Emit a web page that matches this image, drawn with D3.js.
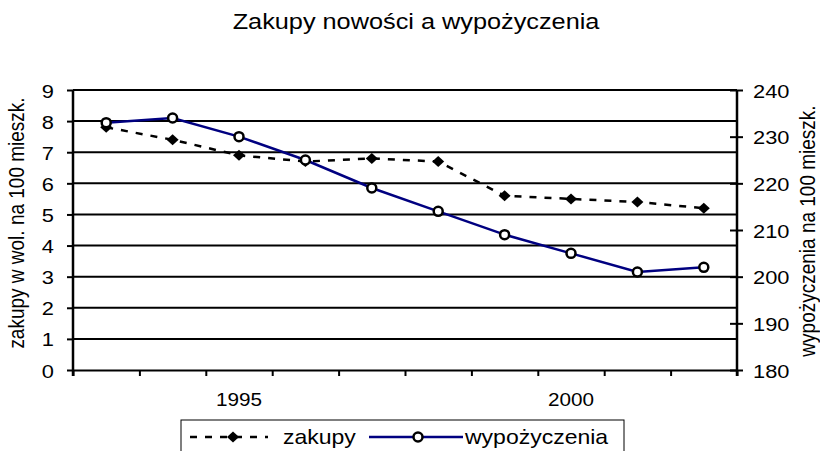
<!DOCTYPE html>
<meta charset="utf-8">
<style>
body {
  margin: 0;
  background: #fff;
  font-family: "Liberation Sans", Arial, sans-serif;
}
</style>
<body>
<script src="https://cdn.jsdelivr.net/npm/d3@7/dist/d3.min.js"></script>
<script>

// chart data
var years = [1993, 1994, 1995, 1996, 1997, 1998, 1999, 2000, 2001, 2002];
var zakupy = [7.8, 7.4, 6.9, 6.7, 6.8, 6.7, 5.6, 5.5, 5.4, 5.2];
var wypozyczenia = [233, 234, 230, 225, 219, 214, 209, 205, 201, 202];
var leftTicks = [0, 1, 2, 3, 4, 5, 6, 7, 8, 9];
var rightTicks = [180, 190, 200, 210, 220, 230, 240];
var yearLabels = [1995, 2000];
var seriesNames = ["zakupy", "wypożyczenia"];
var title = "Zakupy nowości a wypożyczenia";
var leftTitle = "zakupy w wol. na 100 mieszk.";
var rightTitle = "wypożyczenia na 100 mieszk.";

var W = 820, H = 451;
var margin = {top: 90, right: 83, bottom: 81, left: 73};
var width = W - margin.left - margin.right,
    height = H - margin.top - margin.bottom;
var sx = 1.15; // the picture is a bit stretched sideways

var svg = d3.select("body").append("svg")
  .attr("width", W)
  .attr("height", H);

var g = svg.append("g")
  .attr("transform", "translate(" + margin.left + "," + margin.top + ")");

var x = d3.scaleLinear()
  .domain([years[0] - 0.5, years[years.length - 1] + 0.5])
  .range([0, width]);

var yL = d3.scaleLinear().domain([0, 9]).range([height, 0]);
var yR = d3.scaleLinear().domain([180, 240]).range([height, 0]);

// gridlines
g.selectAll(".grid")
  .data(leftTicks.slice(1))
  .enter().append("line")
  .attr("x1", 0).attr("x2", width)
  .attr("y1", function (d) { return yL(d); })
  .attr("y2", function (d) { return yL(d); })
  .attr("stroke", "#000")
  .attr("stroke-width", 2);

// x axis, ticks between years
var xAxis = g.append("g")
  .attr("transform", "translate(0," + height + ")")
  .call(d3.axisBottom(x)
    .tickValues(d3.range(years[0] - 0.5, years[years.length - 1] + 1, 1))
    .tickSize(6).tickSizeOuter(0)
    .tickFormat(""));
xAxis.selectAll("line").attr("stroke-width", 2);
xAxis.select(".domain").attr("stroke-width", 2);

g.selectAll(".xlab")
  .data(yearLabels)
  .enter().append("text")
  .attr("transform", function (d) { return "translate(" + x(d) + "," + (height + 36) + ") scale(" + sx + ",1)"; })
  .attr("text-anchor", "middle")
  .style("font-size", "18px")
  .text(function (d) { return d; });

// left axis
var left = g.append("g")
  .call(d3.axisLeft(yL).tickValues(leftTicks).tickSize(6).tickSizeOuter(0).tickPadding(0));
left.select(".domain").attr("stroke-width", 2.5).attr("d", "M0,0V" + (height + 6));
left.selectAll("line").attr("stroke-width", 2);
left.selectAll("text")
  .attr("x", null)
  .attr("transform", "translate(-19,1) scale(" + sx + ",1)")
  .style("font-size", "19px")
  .attr("fill", "#000")
  .attr("font-family", null);

// right axis
var right = g.append("g")
  .attr("transform", "translate(" + width + ",0)")
  .call(d3.axisRight(yR).tickValues(rightTicks).tickSize(6).tickSizeOuter(0).tickPadding(0));
right.select(".domain").attr("stroke-width", 2.5).attr("d", "M0,0V" + (height + 6));
right.selectAll("line").attr("x1", -7).attr("stroke-width", 2);
right.selectAll("text")
  .attr("x", null)
  .attr("transform", "translate(16,1) scale(" + sx + ",1)")
  .style("font-size", "19px")
  .attr("fill", "#000")
  .attr("font-family", null);

// lines
var lineL = d3.line()
  .x(function (d, i) { return x(years[i]); })
  .y(function (d) { return yL(d); });
var lineR = d3.line()
  .x(function (d, i) { return x(years[i]); })
  .y(function (d) { return yR(d); });

g.append("path")
  .datum(zakupy)
  .attr("d", lineL)
  .attr("fill", "none")
  .attr("stroke", "#000")
  .attr("stroke-width", 2.5)
  .attr("stroke-dasharray", "7,8");

g.append("path")
  .datum(wypozyczenia)
  .attr("d", lineR)
  .attr("fill", "none")
  .attr("stroke", "#000080")
  .attr("stroke-width", 2.5);

var diamond = "M0,-5.5L6,0L0,5.5L-6,0Z";

g.selectAll(".dia")
  .data(zakupy)
  .enter().append("path")
  .attr("d", diamond)
  .attr("transform", function (d, i) { return "translate(" + x(years[i]) + "," + yL(d) + ")"; })
  .attr("fill", "#000");

g.selectAll(".dot")
  .data(wypozyczenia)
  .enter().append("circle")
  .attr("cx", function (d, i) { return x(years[i]); })
  .attr("cy", function (d) { return yR(d); })
  .attr("r", 4.5)
  .attr("fill", "#fff")
  .attr("stroke", "#000")
  .attr("stroke-width", 2.5);

// title
svg.append("text")
  .attr("transform", "translate(416,29) scale(" + sx + ",1)")
  .attr("text-anchor", "middle")
  .style("font-size", "22px")
  .text(title);

// axis titles
svg.append("text")
  .attr("transform", "translate(24,223) scale(" + sx + ",1) rotate(-90)")
  .attr("text-anchor", "middle")
  .style("font-size", "19px")
  .text(leftTitle);

svg.append("text")
  .attr("transform", "translate(815,231) scale(" + sx + ",1) rotate(-90)")
  .attr("text-anchor", "middle")
  .style("font-size", "19px")
  .text(rightTitle);

// legend
var legend = svg.append("g").attr("transform", "translate(181,420)");
legend.append("rect")
  .attr("width", 443).attr("height", 40)
  .attr("fill", "#fff").attr("stroke", "#000").attr("stroke-width", 1);

legend.append("line")
  .attr("x1", 9).attr("x2", 87).attr("y1", 17).attr("y2", 17)
  .attr("stroke", "#000").attr("stroke-width", 2.5).attr("stroke-dasharray", "7,8");
legend.append("path")
  .attr("d", diamond)
  .attr("transform", "translate(52,17)");
legend.append("text")
  .attr("transform", "translate(102,24) scale(" + sx + ",1)")
  .style("font-size", "20px")
  .text(seriesNames[0]);

legend.append("line")
  .attr("x1", 188).attr("x2", 282).attr("y1", 17).attr("y2", 17)
  .attr("stroke", "#000080").attr("stroke-width", 2.5);
legend.append("circle")
  .attr("cx", 237).attr("cy", 17).attr("r", 4.5)
  .attr("fill", "#fff").attr("stroke", "#000").attr("stroke-width", 2.5);
legend.append("text")
  .attr("transform", "translate(284,24) scale(" + sx + ",1)")
  .style("font-size", "20px")
  .text(seriesNames[1]);

</script>
</body>
